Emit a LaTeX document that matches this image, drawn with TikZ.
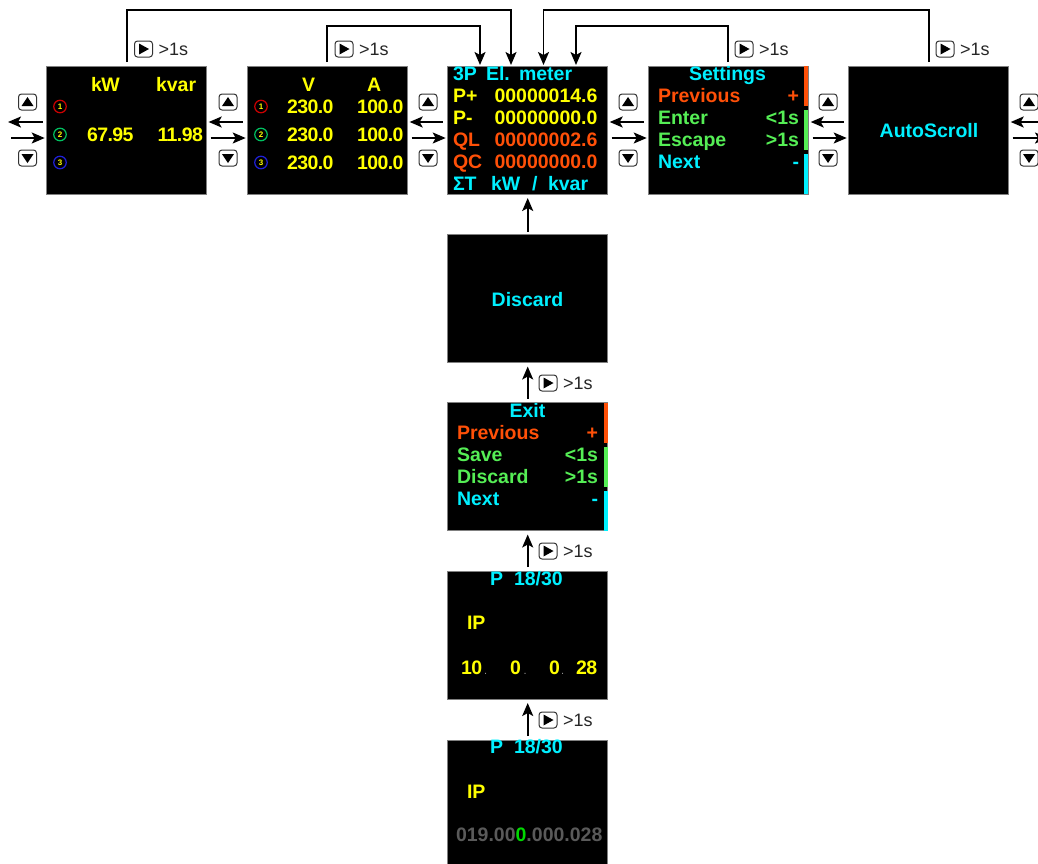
\documentclass[tikz,border=0pt]{standalone}
\usepackage{fontspec}
\setmainfont{Liberation Sans}
\newfontfamily\scrfont{Liberation Sans}
\newfontfamily\tightfont[LetterSpace=-3]{Liberation Sans}
\usetikzlibrary{arrows.meta}
\definecolor{cy}{HTML}{00F0FF}
\definecolor{ye}{HTML}{FFFF00}
\definecolor{ora}{HTML}{FF5008}
\definecolor{lgr}{HTML}{55EE55}
\definecolor{gre}{HTML}{5A5A5A}
\definecolor{dotc}{HTML}{909090}
\definecolor{brd}{HTML}{808080}
\tikzset{
  screen/.style={fill=black,draw=brd,line width=0.6pt,minimum width=160pt,minimum height=128pt,inner sep=0,outer sep=0},
  stxt/.style={anchor=base west,inner sep=0,outer sep=0,font=\scrfont\bfseries\fontsize{19.5}{19.5}\selectfont},
  ttxt/.style={stxt,font=\tightfont\bfseries\fontsize{19.5}{19.5}\selectfont},
  stxtr/.style={stxt,anchor=base east},
  stxtc/.style={stxt,anchor=base},
  dotx/.style={stxt,text=dotc,font=\scrfont\fontsize{11}{11}\selectfont},
  ltxt/.style={anchor=base west,inner sep=0,outer sep=0,font=\fontsize{18}{18}\selectfont,text=black!85},
  arr/.style={-{Stealth[length=13pt,width=11pt,inset=3pt]},line width=1.8pt,black},
  loopline/.style={arr},
  btn/.style={draw=black!80,fill=white,line width=1pt,rounded corners=3pt,minimum width=18pt,minimum height=16pt,inner sep=0,outer sep=0},
  circ/.style={circle,fill=black,line width=1.2pt,minimum size=12.5pt,inner sep=0,text=ye,font=\bfseries\fontsize{8}{8}\selectfont},
  bar/.style={inner sep=0,outer sep=0,minimum width=4pt,minimum height=40pt},
}
\colorlet{cr}{red!80!black}
\definecolor{cg}{HTML}{00C060}
\definecolor{cb}{HTML}{2020D8}
\newcommand\upbtn[3]{\node[btn] (#1) at (#2,#3) {};\fill[black] ([shift={(-6,4)}]#1.center) -- ([shift={(6,4)}]#1.center) -- ([shift={(0,-5)}]#1.center) -- cycle;}
\newcommand\dnbtn[3]{\node[btn] (#1) at (#2,#3) {};\fill[black] ([shift={(-6,-4)}]#1.center) -- ([shift={(6,-4)}]#1.center) -- ([shift={(0,5)}]#1.center) -- cycle;}
\newcommand\plbtn[3]{\node[btn] (#1) at (#2,#3) {};\fill[black] ([shift={(-4.5,-5.5)}]#1.center) -- ([shift={(-4.5,5.5)}]#1.center) -- ([shift={(5.5,0)}]#1.center) -- cycle;
  \node[ltxt] (#1t) at (#2+15,#3+6.5) {>1s};}
\begin{document}
\begin{tikzpicture}[x=1pt,y=-1pt]
\useasboundingbox (0,0) rectangle (1038,863);
\clip (0,0) rectangle (1038,863);
% screens
\node[screen] (s1) at (126.7,130) {};
\node[screen] (s2) at (327.7,130) {};
\node[screen] (s3) at (527.7,130) {};
\node[screen] (s4) at (728.7,130) {};
\node[screen] (s5) at (928.7,130) {};
\node[screen] (d1) at (527.7,298.5) {};
\node[screen] (d2) at (527.7,466.5) {};
\node[screen] (d3) at (527.7,635) {};
\node[screen] (d4) at (527.7,804) {};
% screen 1
\node[ttxt,text=ye] (k1) at (91,91) {kW};
\node[stxt,text=ye] (k2) at (156,91) {kvar};
\node[ttxt,text=ye] (k3) at (87,141) {67.95};
\node[ttxt,text=ye] (k4) at (157.5,141) {11.98};
\node[circ,draw=cr] (c11) at (60,106.5) {1};
\node[circ,draw=cg] (c12) at (60,134.5) {2};
\node[circ,draw=cb] (c13) at (60,162.5) {3};
% screen 2
\node[stxt,text=ye] (v1) at (302,91) {V};
\node[stxt,text=ye] (a1) at (367,91) {A};
\node[ttxt,text=ye] (v2) at (287,113) {230.0};
\node[ttxt,text=ye] (v3) at (287,141) {230.0};
\node[ttxt,text=ye] (v4) at (287,169) {230.0};
\node[ttxt,text=ye] (a2) at (357,113) {100.0};
\node[ttxt,text=ye] (a3) at (357,141) {100.0};
\node[ttxt,text=ye] (a4) at (357,169) {100.0};
\node[circ,draw=cr] (c21) at (261,106.5) {1};
\node[circ,draw=cg] (c22) at (261,134.5) {2};
\node[circ,draw=cb] (c23) at (261,162.5) {3};
% screen 3
\node[stxt,text=cy] (m0) at (453,80) {3P};
\node[stxt,text=cy] (m0b) at (486,80) {El.};
\node[stxt,text=cy] (m0c) at (519,80) {meter};
\node[stxt,text=ye] (m1) at (453,102) {P+};
\node[stxt,text=ye] (m1v) at (494.5,102) {00000014.6};
\node[stxt,text=ye] (m2) at (453,124) {P-};
\node[stxt,text=ye] (m2v) at (494.5,124) {00000000.0};
\node[stxt,text=ora] (m3) at (453,146) {QL};
\node[stxt,text=ora] (m3v) at (494.5,146) {00000002.6};
\node[stxt,text=ora] (m4) at (453,168) {QC};
\node[stxt,text=ora] (m4v) at (494.5,168) {00000000.0};
\node[stxt,text=cy] (m5) at (453,190) {ΣT};
\node[stxt,text=cy] (m5b) at (491,190) {kW};
\node[stxt,text=cy] (m5c) at (532,190) {/};
\node[stxt,text=cy] (m5d) at (548,190) {kvar};
% screen 4 settings
\node[stxtc,text=cy] (st) at (727.5,80) {Settings};
\node[stxt,text=ora] (st1) at (658,102) {Previous};
\node[stxtr,text=ora] (st1r) at (799,102) {+};
\node[stxt,text=lgr] (st2) at (658,124) {Enter};
\node[stxtr,text=lgr] (st2r) at (799,124) {<1s};
\node[stxt,text=lgr] (st3) at (658,146) {Escape};
\node[stxtr,text=lgr] (st3r) at (799,146) {>1s};
\node[stxt,text=cy] (st4) at (658,168) {Next};
\node[stxtr,text=cy] (st4r) at (799,168) {-};
\node[bar,fill=ora] (b1) at (806.3,86) {};
\node[bar,fill=lgr] (b2) at (806.3,130) {};
\node[bar,fill=cy] (b3) at (806.3,174) {};
% autoscroll, discard
\node[stxtc,text=cy] (as) at (929,137) {AutoScroll};
\node[stxtc,text=cy] (ds) at (527.5,306.5) {Discard};
% exit
\node[stxtc,text=cy] (ex) at (527.5,417) {Exit};
\node[stxt,text=ora] (ex1) at (457,439) {Previous};
\node[stxtr,text=ora] (ex1r) at (598,439) {+};
\node[stxt,text=lgr] (ex2) at (457,461) {Save};
\node[stxtr,text=lgr] (ex2r) at (598,461) {<1s};
\node[stxt,text=lgr] (ex3) at (457,483) {Discard};
\node[stxtr,text=lgr] (ex3r) at (598,483) {>1s};
\node[stxt,text=cy] (ex4) at (457,505) {Next};
\node[stxtr,text=cy] (ex4r) at (598,505) {-};
\node[bar,fill=ora] (b4) at (606,423) {};
\node[bar,fill=lgr] (b5) at (606,467) {};
\node[bar,fill=cy] (b6) at (606,511) {};
% IP display
\node[stxt,text=cy] (p1) at (490,585) {P};
\node[stxt,text=cy] (p1b) at (514,585) {18/30};
\node[stxt,text=ye] (i1) at (467,629) {IP};
\node[ttxt,text=ye] (o1) at (461,674) {10};
\node[dotx] (o1d) at (484,674) {.};
\node[stxt,text=ye] (o2) at (510,674) {0};
\node[dotx] (o2d) at (523.5,674) {.};
\node[stxt,text=ye] (o3) at (549,674) {0};
\node[dotx] (o3d) at (561,674) {.};
\node[ttxt,text=ye] (o4) at (576,674) {28};
% IP edit
\node[stxt,text=cy] (p2) at (490,753) {P};
\node[stxt,text=cy] (p2b) at (514,753) {18/30};
\node[stxt,text=ye] (i2) at (467,798) {IP};
\node[stxt] (ed) at (456,841) {\textcolor{gre}{019.00}\textcolor{green!85!black}{0}\textcolor{gre}{.000.028}};
% horizontal arrows
\coordinate (L1) at (8,122);
\coordinate (L2) at (11,138);
\coordinate (R1) at (1048,122);
\coordinate (R2) at (1048,138);
\draw[arr] ([shift={(-4,-8)}]s1.west) -- (L1);
\draw[arr] (L2) -- ([shift={(-2,8)}]s1.west);
\foreach \a/\b in {s1/s2,s2/s3,s3/s4,s4/s5}{
  \draw[arr] ([shift={(-5,-8)}]\b.west) -- ([shift={(2,-8)}]\a.east);
  \draw[arr] ([shift={(4,8)}]\a.east) -- ([shift={(-2,8)}]\b.west);
}
\draw[arr] (R1) -- ([shift={(2,-8)}]s5.east);
\draw[arr] ([shift={(4,8)}]s5.east) -- (R2);
% vertical arrows
\draw[arr] ([yshift=3pt]d1.north) -- ([yshift=-4pt]s3.south);
\draw[arr] ([yshift=4pt]d2.north) -- ([yshift=-4pt]d1.south);
\draw[arr] ([yshift=4pt]d3.north) -- ([yshift=-4pt]d2.south);
\draw[arr] ([yshift=4pt]d4.north) -- ([yshift=-4pt]d3.south);
% loops
\draw[loopline] ([shift={(0.3,-4)}]s1.north) -- (127,10) -- (511,10) -- ([shift={(-16.7,-1)}]s3.north);
\draw[loopline] ([shift={(-0.7,-4)}]s2.north) -- (327,26) -- (480,26) -- ([shift={(-47.7,-1)}]s3.north);
\draw[loopline] ([shift={(0.3,-4)}]s5.north) -- (929,10) -- (543.5,10) -- ([shift={(15.8,-1)}]s3.north);
\draw[loopline] ([shift={(-0.7,-4)}]s4.north) -- (728,26) -- (576,26) -- ([shift={(48.3,-1)}]s3.north);
% buttons
\upbtn{u1}{27.5}{102}\dnbtn{n1}{27.5}{158}
\upbtn{u2}{228}{102}\dnbtn{n2}{228}{158}
\upbtn{u3}{428}{102}\dnbtn{n3}{428}{158}
\upbtn{u4}{628}{102}\dnbtn{n4}{628}{158}
\upbtn{u5}{828}{102}\dnbtn{n5}{828}{158}
\upbtn{u6}{1029}{102}\dnbtn{n6}{1029}{158}
\plbtn{g1}{143.5}{49}
\plbtn{g2}{344}{49}
\plbtn{g3}{744}{49}
\plbtn{g4}{945}{49}
\plbtn{g5}{548}{383}
\plbtn{g6}{548}{551}
\plbtn{g7}{548}{720}
\end{tikzpicture}
\end{document}
